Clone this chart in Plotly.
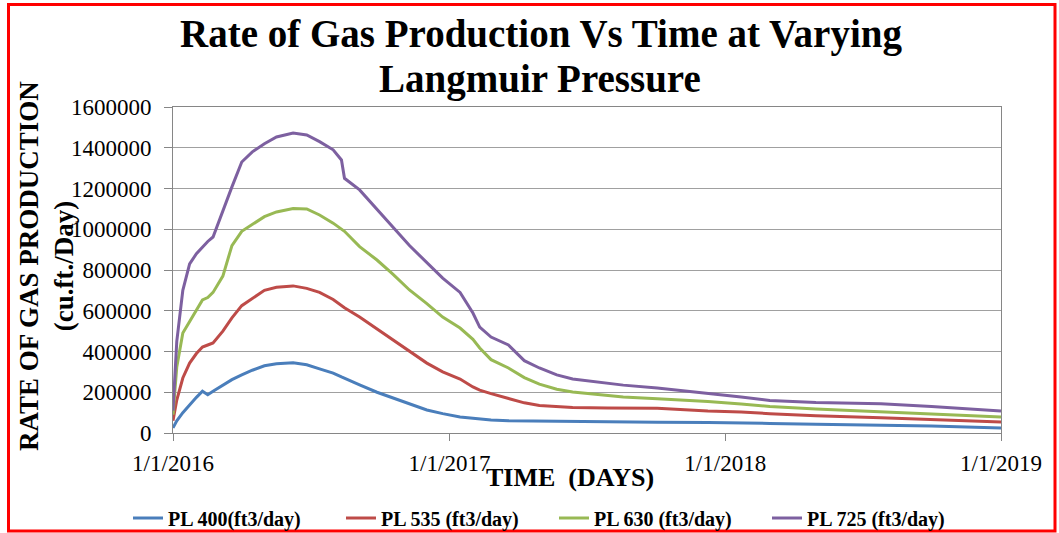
import plotly.graph_objects as go

dates = ["2016-01-01", "2016-01-06", "2016-01-14", "2016-01-23", "2016-02-01", "2016-02-09",
         "2016-02-16", "2016-02-23", "2016-03-07", "2016-03-19", "2016-04-01", "2016-04-15",
         "2016-05-01", "2016-05-17", "2016-06-08", "2016-06-26", "2016-07-13", "2016-07-31",
         "2016-08-11", "2016-08-15", "2016-09-04", "2016-09-27", "2016-10-18", "2016-11-09",
         "2016-12-02", "2016-12-23", "2017-01-15", "2017-02-01", "2017-02-10", "2017-02-25",
         "2017-03-20", "2017-04-10", "2017-04-30", "2017-05-23", "2017-06-13", "2017-07-29",
         "2017-08-19", "2017-10-03", "2017-12-09", "2018-01-22", "2018-03-01", "2018-05-01",
         "2018-07-26", "2018-10-01", "2019-01-01"]

pl400 = [25000, 60000, 100000, 140000, 175000, 205000, 188000, 205000, 235000, 262000, 285000, 308000,
         330000, 340000, 345000, 335000, 315000, 294000, 275000, 268000, 236000, 200000, 172000, 140000,
         113000, 95000, 79000, 72000, 68000, 64000, 60000, 59000, 59000, 59000, 58000, 54000,
         54000, 53000, 51000, 50000, 47000, 43000, 38000, 34000, 25000]

pl535 = [60000, 162000, 270000, 343000, 390000, 422000, 432000, 442000, 500000, 565000, 625000, 660000,
         700000, 715000, 722000, 710000, 690000, 655000, 625000, 615000, 569000, 510000, 456000, 398000,
         343000, 300000, 265000, 226000, 210000, 193000, 170000, 148000, 135000, 128000, 125000, 123000,
         123000, 122000, 108000, 103000, 95000, 85000, 75000, 66000, 54000]

pl630 = [90000, 324000, 491000, 545000, 600000, 653000, 665000, 690000, 770000, 920000, 990000, 1025000,
         1062000, 1085000, 1102000, 1100000, 1070000, 1030000, 1000000, 990000, 915000, 849000, 780000, 702000,
         635000, 569000, 515000, 460000, 417000, 360000, 319000, 272000, 240000, 215000, 201000, 185000,
         177000, 168000, 155000, 142000, 130000, 118000, 105000, 95000, 79000]

pl725 = [110000, 450000, 700000, 830000, 880000, 913000, 940000, 962000, 1094000, 1208000, 1330000, 1380000,
         1420000, 1453000, 1472000, 1463000, 1430000, 1390000, 1340000, 1250000, 1193000, 1100000, 1011000, 920000,
         834000, 760000, 690000, 589000, 520000, 471000, 432000, 355000, 319000, 285000, 265000, 245000,
         235000, 221000, 196000, 177000, 160000, 150000, 143000, 130000, 108000]

series_names = ["PL 400(ft3/day)", "PL 535 (ft3/day)", "PL 630 (ft3/day)", "PL 725 (ft3/day)"]
series_values = [pl400, pl535, pl630, pl725]
series_colors = ["#4A7EBB", "#BE4B48", "#98B954", "#7D60A0"]

tick_dates = ["2016-01-01", "2017-01-01", "2018-01-01", "2019-01-01"]
tick_labels = ["1/1/2016", "1/1/2017", "1/1/2018", "1/1/2019"]

W, H = 1059, 533
L, R, T, B = 173, 58, 107, 100
PW, PH = W - L - R, H - T - B

def px_x(p):
    return (p - L) / PW

def px_y(p):
    return (H - B - p) / PH

SERIF = "Liberation Serif, Times New Roman, serif"

fig = go.Figure()
for name, vals, col in zip(series_names, series_values, series_colors):
    fig.add_trace(go.Scatter(x=dates, y=vals, mode="lines", name="<b>" + name + "</b>",
                             line=dict(color=col, width=3)))

fig.update_layout(
    width=W, height=H,
    margin=dict(l=L, r=R, t=T, b=B, autoexpand=False),
    paper_bgcolor="white", plot_bgcolor="white",
    font=dict(family=SERIF, color="black"),
    showlegend=True,
    legend=dict(orientation="h", x=px_x(128), xanchor="left", y=px_y(518), yanchor="middle",
                font=dict(family=SERIF, size=20, color="black"),
                entrywidth=168, entrywidthmode="pixels", bgcolor="rgba(0,0,0,0)"),
)

fig.update_xaxes(type="date", range=["2016-01-01", "2019-01-01"],
                 tickvals=tick_dates, ticktext=tick_labels,
                 tickfont=dict(family=SERIF, size=23, color="black"),
                 showgrid=False, showline=True, linecolor="#868686", linewidth=1,
                 mirror=True, ticks="outside", ticklen=7, tickcolor="#868686",
                 ticklabelstandoff=2, zeroline=False)
fig.update_yaxes(range=[0, 1600000], dtick=200000, tickformat="d",
                 tickfont=dict(family=SERIF, size=23, color="black"),
                 showgrid=True, gridcolor="#A0A0A0", gridwidth=1,
                 showline=True, linecolor="#868686", linewidth=1, mirror=True,
                 ticks="outside", ticklen=8, tickcolor="#868686",
                 ticklabelstandoff=8, zeroline=False)

fig.add_annotation(text="<b>Rate of Gas Production Vs Time at Varying</b>",
                   xref="paper", yref="paper", x=px_x(541), y=px_y(34),
                   xanchor="center", yanchor="middle", showarrow=False,
                   font=dict(family=SERIF, size=39, color="black"))
fig.add_annotation(text="<b>Langmuir Pressure</b>",
                   xref="paper", yref="paper", x=px_x(540), y=px_y(79),
                   xanchor="center", yanchor="middle", showarrow=False,
                   font=dict(family=SERIF, size=39, color="black"))

fig.add_annotation(text="<b>RATE OF GAS PRODUCTION<br>(cu.ft./Day)</b>", textangle=-90,
                   xref="paper", yref="paper", x=px_x(46), y=px_y(266),
                   xanchor="center", yanchor="middle", showarrow=False,
                   font=dict(family=SERIF, size=27, color="black"))
fig.add_annotation(text="<b>TIME  (DAYS)</b>",
                   xref="paper", yref="paper", x=px_x(570), y=px_y(477),
                   xanchor="center", yanchor="middle", showarrow=False,
                   font=dict(family=SERIF, size=26, color="black"))

fig.add_shape(type="rect", xref="paper", yref="paper",
              x0=px_x(8.5), x1=px_x(1055), y0=px_y(531), y1=px_y(4.5),
              line=dict(color="#FF0000", width=3), fillcolor="rgba(0,0,0,0)", layer="above")

fig.write_html("out.html", config={"displayModeBar": False},
               post_script="document.body.style.margin='0';document.body.style.padding='0';"
                           "document.body.style.overflow='hidden';")
